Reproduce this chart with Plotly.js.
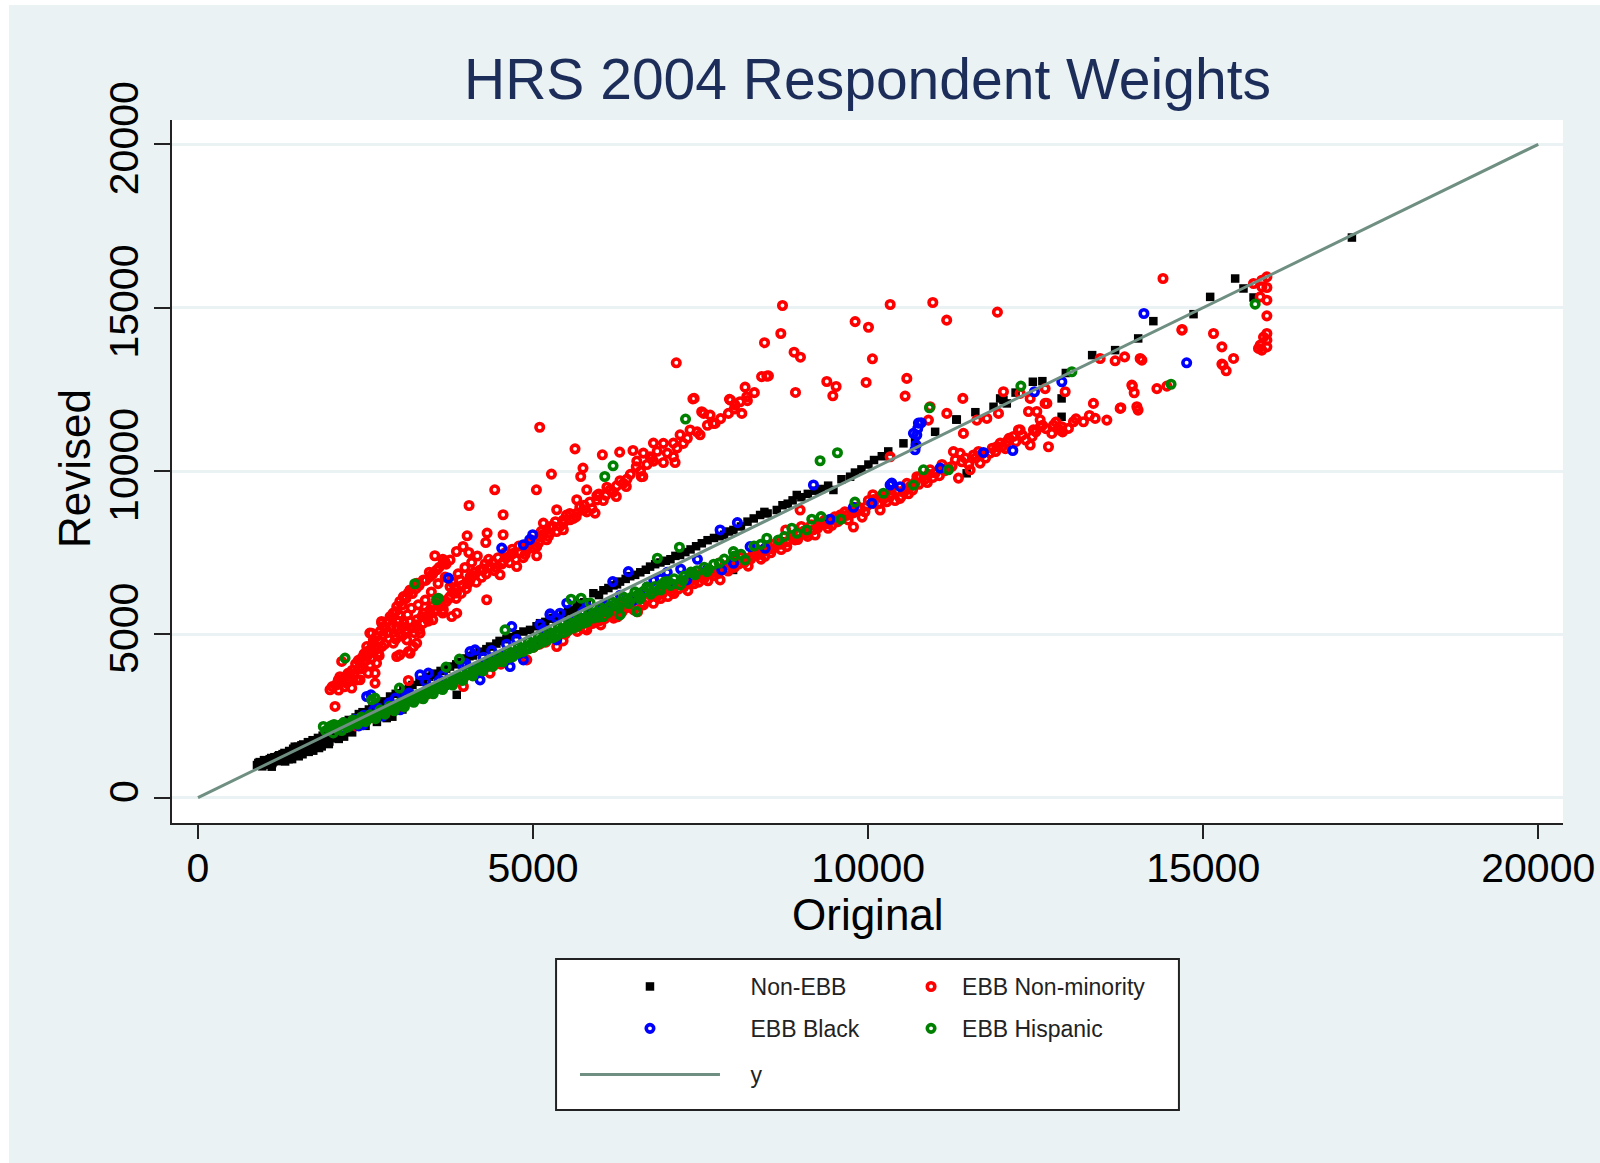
<!DOCTYPE html>
<html>
<head>
<meta charset="utf-8">
<script src="https://cdn.plot.ly/plotly-3.0.1.min.js"></script>
<style>
  html, body { margin: 0; padding: 0; background: #ffffff; }
  #chart { position: absolute; left: 9px; top: 5px; width: 1591px; height: 1158px; }
</style>
</head>
<body>
<div id="chart"></div>
<script>
// ---- Data: [Original, Revised] ----
const nonEbb = [
  [880,1000],[920,1090],[960,960],[1000,1120],[1030,1010],[1070,1180],[1110,1060],[1140,1240],[1180,1120],[1210,1300],
  [1250,1150],[1290,1370],[1320,1220],[1360,1430],[1380,1260],[1420,1500],[1460,1330],[1490,1560],[1530,1380],[1570,1630],
  [1600,1440],[1640,1700],[1680,1500],[1710,1760],[1750,1560],[1790,1830],[1820,1600],[1860,1900],[1880,1660],[1920,1960],
  [1960,1720],[2000,2030],[2040,1830],[2100,1800],[2180,1870],[1846,1570],[1720,1440],[1560,1330],[1300,1110],[1100,950],
  [900,1060],[940,1020],[985,1150],[1012,1065],[1048,1090],[1093,1215],[1124,1108],[1163,1192],[1195,1268],[1232,1207],
  [1262,1333],[1283,1238],[1334,1296],[1352,1178],[1404,1398],[1433,1302],[1444,1561],[1472,1418],[1512,1482],[1543,1604],
  [1583,1497],[1622,1562],[1653,1621],[1694,1664],[1733,1618],[1762,1703],[1804,1757],[1833,1702],[1872,1803],[1903,1758],
  [1942,1884],[1983,1852],[2022,1943],[2064,2004],[1404,1182],[1503,1268],[1652,1403],[1806,1521],[1952,1642],
  [2100,2200],[2150,2250],[2205,2322],[2250,2380],[2352,2455],[2400,2560],[2455,2618],[2550,2700],[2604,2752],[2700,2900],
  [2752,2948],[2805,2903],[2866,3098],[2950,3180],[3004,3198],[3065,3303],[3152,3352],[3200,3450],[3305,3548],[3363,3608],
  [3452,3702],[3500,3760],[3553,3798],[3620,3880],[3704,3952],[3761,4015],[3853,4082],[3900,4160],[4004,4262],[4050,4330],
  [4104,4352],[4200,4470],[4303,4548],[4358,4627],[4452,4718],[4500,4800],[4603,4852],[4650,4920],[4752,5003],[4856,5086],
  [4955,5137],[5052,5248],[5104,5342],[5183,5382],[5250,5480],[5303,5502],[5353,5443],[5450,5640],[5522,5703],[5602,5749],
  [5652,5853],[5700,5950],[5764,5982],[5801,5902],[5900,6259],[5984,6203],[6050,6350],[6124,6418],[6200,6500],[6253,6532],
  [6298,6615],[6382,6698],[6450,6780],[6523,6822],[6600,6900],[6683,6978],[6746,7074],[6822,7148],[6900,7200],[6982,7252],
  [7050,7300],[7124,7402],[7194,7431],[7272,7518],[7350,7600],[7433,7698],[7518,7788],[7604,7882],[7700,7950],[7783,8003],
  [7850,8050],[7924,8148],[7990,8196],[8102,8302],[8200,8450],[8293,8548],[8388,8654],[8452,8748],[8500,8700],[8637,8807],
  [8722,8953],[8800,9000],[8873,9102],[8935,9266],[9004,9198],[9100,9300],[9204,9398],[9300,9450],[9403,9552],[9482,9419],
  [9602,9748],[9731,9826],[9803,9952],[9900,10050],[10004,10198],[10088,10336],[10204,10452],[10300,10600],[10527,10847],[10700,10900],
  [11000,11200],[11315,11575],[11600,11800],[11871,11966],[11970,12222],[12019,12171],[12069,12069],[12200,12400],[12458,12732],[12600,12750],
  [12887,12222],[12887,11660],[12950,13000],[13343,13547],[13686,13700],[14030,14058],[14256,14587],[14856,14801],[15104,15330],[15477,15892],
  [15601,15587],[15751,15312],[17219,17146],
  [2045,1826],[2300,2000],[2500,2200],[2670,2320],[2816,2437],[2900,2480],[3050,2700],[3861,3150],[4500,4300],
  [5000,4750],[7985,6972],[8388,7483],[8700,7850],[11470,9930],[11323,11575]
];
const ebbNonMinority = [
  // upper branch
  [1970,3305],[2045,2794],[2079,3508],[2094,3608],[2144,4171],[2219,3507],[2269,3813],[2294,3356],[2368,3608],[2418,3611],
  [2418,4015],[2443,4272],[2467,4324],[2518,4627],[2540,3815],[2564,5040],[2567,4067],[2593,5036],[2617,4832],[2642,3508],
  [2642,3813],[2664,4120],[2664,4630],[2667,4933],[2691,4425],[2739,5395],[2742,4627],[2742,5342],[2763,4988],[2766,5240],
  [2866,5545],[2912,5652],[2915,4730],[2963,5242],[2966,4321],[2966,5850],[3011,4376],[3012,6007],[3015,5036],[3040,5240],
  [3065,6156],[3115,4832],[3115,5141],[3136,6264],[3139,4474],[3164,4422],[3164,5391],[3164,6360],[3214,4627],[3263,4733],
  [3264,5443],[3264,6564],[3313,5036],[3363,5342],[3363,5651],[3363,6666],[3463,5749],[3463,6768],[3488,5851],[3534,7405],
  [3562,6972],[3612,6055],[3661,5753],[3661,7177],[3683,7231],[3761,6156],[3761,6462],[3761,7278],[3786,5545],[3857,6264],
  [3857,7537],[3861,5648],[3910,6666],[3956,7690],[4016,8017],[4041,7506],[4045,8945],[4060,6671],[4060,6768],[4209,6972],
  [4258,6977],[4294,7812],[4308,6059],[4314,8100],[4358,7074],[4428,9425],[4507,6824],[4553,8048],[4553,8660],[4557,7227],
  [4656,7405],[4706,7483],[4756,7078],[4905,7690],[4906,7584],[5050,9425],[5054,7405],[5055,7686],[5099,11340],[5104,7992],
  [5154,8405],[5254,8100],[5254,8297],[5274,9905],[5353,8813],[5452,8201],[5452,8501],[5552,8507],[5626,10679],[5652,8705],
  [5652,9119],[5711,9832],[5745,10089],[5751,8807],[5801,9425],[5925,8711],[5950,9113],[6034,10496],[6149,9419],[6242,9220],
  [6292,10578],[6348,9622],[6391,9526],[6491,10628],[6540,10131],[6615,9826],[6637,9832],[6646,10548],[6746,10437],[6771,10396],
  [6796,10854],[6945,10261],[6945,10846],[7094,10437],[7094,10854],[7119,10261],[7137,13312],[7194,11108],[7243,10846],[7343,11254],
  [7385,12209],[7403,12222],[7492,11108],[7516,11814],[7546,11763],[7642,11712],[7688,11458],[7716,11458],[7915,11763],[7930,12193],
  [7947,12171],[8015,12018],[8089,12121],[8115,11763],[8164,12567],[8189,12273],[8410,12890],[8454,13928],[8488,12905],[8512,12913],
  [8697,14210],[8722,15065],[8895,13637],[8916,12405],[8990,13484],[9383,12741],[9473,12302],[9522,12588],[9806,14574],[9970,12711],
  [10005,14401],[10064,13434],[10329,15096],[10552,12293],[10577,12834],[10965,15157],[11172,14617],[11929,14862],
  [2952,4852],[3048,4954],[3103,5046],[3198,5203],[3252,5296],[3304,5148],[3402,5503],[3447,5602],[3503,5447],[3552,5748],
  [3598,5903],[3652,5652],[3703,6004],[3802,6297],[3853,6102],[3948,6503],[4003,6398],[4098,6802],[4152,6597],[4248,7003],
  [4302,6852],[4398,7198],[4452,7046],[4603,7352],[4648,7197],[4802,7503],[4853,7348],[4948,7802],[5003,7647],[5148,8052],
  [5203,7897],[5298,8303],[5352,8148],[5452,8398],[5498,8652],[5603,8548],[5698,8902],[5802,8747],[5848,9053],[5952,9248],
  [6048,9097],[6102,9503],[6198,9352],[6298,9703],[6452,9898],[6548,10302],[6698,10197],[6852,10603],[7003,10548],[7148,10702],
  [7302,11003],[7448,11198],[7602,11402],[7798,11603],[8003,11897],[8198,12153],[8302,12398],
  [2003,3402],[2098,3298],[2152,3548],[2203,3702],[2248,3598],[2302,3903],[2352,4098],[2398,3952],[2478,4402],[2503,4198],
  [2548,4503],[2603,4698],[2648,4552],[2702,4803],[2722,5098],[2798,5203],[2832,5398],[2898,5503],[2952,5702],[3003,5598],
  [3048,5903],[3102,6098],[3198,6252],[3252,6398],[3302,6502],[3398,6652],[3452,6903],[3502,6848],[3598,7052],[3652,7298],[3702,7148],
  [2061,3447],[2118,3702],[2183,3396],[2238,3806],[2327,3748],[2392,4203],[2457,3952],[2531,4348],[2584,4246],[2622,4454],
  [2703,4347],[2786,4702],[2821,5053],[2883,5248],[2937,4954],[2992,5397],[3071,5352],[3128,5604],[3183,5797],[3229,5052],
  [3287,5903],[3342,5548],[3391,6048],[3437,5403],[3482,6297],[3528,5702],[3583,6553],[3627,5948],[3688,6752],[3742,6097],
  [3787,6603],[3833,6398],[3882,6852],[3927,6253],[3983,7047],[4028,6553],[4083,7203],[4122,6897],[4168,7398],[4232,6748],
  [4283,7153],[4337,7297],[4422,6952],[4478,7347],[4532,7153],[4583,7497],[4688,7603],[4742,7297],[4787,7703],[4882,7448],
  [4968,7897],[5083,7803],[5122,8153],[5228,7997],[5333,8447],[5402,8303],[5548,8697],[5643,8603],[5762,8953],[5878,8847],
  [5982,9297],[6083,9253],[6247,9547],[6402,9753],[6603,9997],[6797,10303],
  // main band (below line)
  [2350,2200],[2502,2348],[2600,2450],[2798,2603],[3003,2798],[3139,3587],[3164,2997],[3302,3052],[3420,3170],[3598,3352],
  [3690,3440],[3802,3548],[3960,3404],[4003,3748],[4110,3760],[4198,3902],[4358,3813],[4402,4098],[4520,4090],[4598,4252],
  [4710,4360],[4802,4448],[4906,4220],[5010,4610],[5098,4702],[5190,4760],[5302,4898],[5353,4627],[5448,4802],[5480,5010],
  // lower red branch
  [5598,5248],[5660,5090],[5702,5352],[5801,5137],[5860,5460],[5898,5402],[5952,5598],[6010,5290],[6090,5610],[6148,5752],
  [6202,5498],[6260,5540],[6302,5898],[6390,5810],[6448,6002],[6502,5748],[6560,5690],[6602,6098],[6648,5902],[6690,6060],
  [6748,6202],[6796,5953],[6860,6290],[6902,6098],[6952,6352],[7010,6160],[7048,6398],[7102,6252],[7140,6510],[7198,6602],
  [7248,6448],[7310,6340],[7352,6702],[7402,6548],[7440,6760],[7502,6852],[7548,6698],[7610,6640],[7648,6952],[7702,6798],
  [7780,7186],[7791,6666],[7852,7098],[7910,6940],[7948,7202],[8003,7048],[8040,7260],[8098,7352],[8152,7198],[8210,7090],
  [8248,7302],[8290,7510],[8348,7598],[8402,7302],[8460,7390],[8502,7702],[8548,7498],[8590,7760],[8652,7852],[8702,7598],
  [8770,8196],[8786,7686],[8852,7998],[8910,7890],[8948,7902],[9003,8302],[9040,8160],[9098,7998],[9152,8352],[9210,8040],
  [9248,8252],[9290,8410],[9352,8502],[9402,8248],[9460,8340],[9502,8598],[9548,8452],[9590,8660],[9652,8748],[9702,8502],
  [9760,8807],[9781,8287],[9852,8898],[9910,8590],[9952,8752],[10003,9098],[10070,9272],[10079,9010],[10152,8998],[10179,8807],
  [10202,9248],[10278,9060],[10352,9302],[10402,9098],[10477,9163],[10490,9220],[10552,9448],[10578,9622],[10602,9302],[10627,9526],
  [10702,9648],[10727,9825],[10776,9832],[10852,9752],[10902,9898],[10925,10037],[11003,9948],[11102,10198],[11198,10098],[11273,10592],
  [11302,10348],[11348,9783],[11373,10541],[11448,10398],[11502,10198],[11522,10037],[11572,10490],[11648,10598],[11671,10242],[11752,10398],
  [11820,10548],[11852,10698],[11920,10742],[11970,10854],[12003,10752],[12069,10896],[12102,10998],[12168,11058],[12243,11254],[12268,11261],
  [12302,11098],[12352,10948],[12393,11821],[12418,10796],[12467,11261],[12502,11198],[12517,11821],[12567,11567],[12571,11355],[12602,11398],
  [12641,12069],[12691,10742],[12741,11151],[12766,11406],[12802,11498],[12866,11254],[12890,11355],[12902,11198],[12989,11304],[13064,11508],
  [13102,11598],[13213,11508],[13302,11698],[13362,12069],[13388,11610],[13562,11559],[13761,11916],[13935,12630],[13970,12395],[14010,11967],
  [14028,11865],[14309,12523],[14458,12598],[13943,12599],[13771,11936],
  [5522,5118],[5638,5213],[5764,5177],[5883,5332],[5987,5418],[6072,5483],[6183,5607],[6327,5684],[6418,5878],[6533,5853],
  [6622,5957],[6718,6093],[6843,6148],[6927,6232],[7063,6307],[7168,6383],[7283,6557],[7388,6652],[7473,6598],[7578,6812],
  [7683,6897],[7762,6863],[7878,7003],[7973,7118],[8068,7153],[8183,7318],[8268,7403],[8373,7447],[8478,7563],[8573,7618],
  [8683,7757],[8788,7833],[8883,7957],[8978,8083],[9073,8088],[9183,8203],[9268,8333],[9383,8387],[9478,8503],[9573,8557],
  [9683,8643],[9778,8718],[9883,8823],[9978,8927],[10083,9127],[10228,9143],[10323,9207],[10428,9383],[10533,9347],[10663,9418],
  [10758,9593],[10883,9647],[10968,9803],[11063,9857],[11148,10013],[11253,10147],[11398,10283],[11603,10397],[11697,10523],[11903,10597],
  [12048,10683],[12203,10897],[12447,11053],[12653,11297],
  // on the line
  [8985,8807],[10328,10437],[10900,11559],[10925,11967],[11174,11763],[11413,12222],[11422,11151],[11622,11559],[11771,11610],[11945,11763],
  [12019,12425],[12268,12375],[12418,12222],[12641,12523],[12667,12069],[12940,12425],[13462,13444],[13686,13373],[13828,13495],[14059,13444],
  [14085,13394],[14685,14333],[14400,15892],
  // top right
  [15154,14210],[15279,13801],[15453,13446],[15279,13272],[15343,13067],[15296,13241],[15751,15740],[15875,15840],[15950,15942],[15875,15636],
  [15950,15617],[15850,15330],[15950,15229],[15950,14749],[15950,14210],[15950,14006],[15850,13853],[15825,13752],[15875,13700],[15950,13801],
  [15900,14100],[14682,14311]
];
const ebbBlack = [
  [2270,2300],[2400,2200],[2464,2238],[2517,3098],[2580,3150],[2700,2600],[2900,2750],[3015,2691],[3200,3000],[3313,3761],
  [3437,3813],[3500,3350],[3736,6722],[3900,3700],[4060,4474],[4134,4526],[4209,3608],[4300,4150],[4450,4250],[4532,7640],
  [4657,4015],[4682,5239],[4855,7742],[4856,4220],[4950,7900],[4995,8048],[5000,4700],[5254,5596],[5254,5627],[5353,4832],
  [5403,5648],[5503,5954],[5700,5500],[6000,5750],[6189,6615],[6422,6920],[6600,6250],[7045,6564],[7294,6666],[7816,6972],
  [7990,7177],[7791,8196],[8049,8419],[8239,7686],[8463,7636],[9184,9572],[9433,8523],[9781,8890],[10055,9012],[10328,9572],
  [10353,9628],[10477,9520],[10676,11152],[10700,10650],[10716,10796],[10726,11100],[10740,11300],[10750,11467],[10791,11477],[11074,10089],
  [11721,10567],[12159,10628],[12482,12425],[12890,12732],[14115,14822],[14753,13312],
  [2152,2098],[2352,2402],[2622,2698],[2752,2502],[2852,2902],[3102,3148],[3352,3198],[3602,3598],[3702,3452],[3952,4048],
  [4152,3948],[4382,4502],[4552,4348],[4752,4848],[4902,4598],[5102,5302],[5202,4948],[5452,5352],[5602,5448],[5802,5848],
  [5902,5598],[6302,6198],[6502,6048],[6802,6648],[7002,6898],[7452,7298],[7602,6998],
  [2233,2178],[2478,2523],[2683,2747],[2947,3053],[3148,3203],[3397,3548],[3653,3747],[3848,3652],[3997,4103],[4253,4297],
  [4603,4698],[4797,4503],[5148,5153],[5347,5497],[5553,5297],[5748,5703],[6097,5903],[6703,6447],[6897,6703],[7203,6997]
];
const ebbHispanic = [
  [1870,2180],[1950,2120],[2030,2240],[2080,2090],[2170,2300],[2230,2160],[2310,2380],[2380,2250],[2440,2470],[2500,2330],
  [2592,2997],[2642,3049],[2570,2540],[2650,2420],[2720,2680],[2790,2560],[2860,2800],[2930,2660],[3005,3354],[3010,2900],
  [3080,2780],[3150,3010],[3220,2920],[3290,3160],[3360,3030],[3430,3300],[3510,3180],[3580,3440],[3650,3310],[3701,3997],
  [3730,3590],[3800,3450],[3880,3730],[3900,4241],[3950,3590],[4030,3880],[4100,3730],[4180,4030],[4250,3880],[4330,4190],
  [4400,4020],[4480,4340],[4550,4160],[4582,5137],[4630,4480],[4700,4320],[4780,4640],[4850,4470],[4930,4790],[5000,4600],
  [5080,4940],[5150,4760],[5230,5080],[5300,4900],[5380,5230],[5450,5050],[5530,5390],[5567,6076],[5600,5190],[5680,5530],
  [5716,6107],[5750,5340],[5851,5960],[5830,5680],[5900,5500],[6049,5544],[6000,5830],[6100,5700],[6180,5990],[6298,5596],
  [6260,5860],[6350,6140],[6440,6000],[6547,5697],[6520,6300],[6600,6150],[6700,6450],[6780,6280],[6855,7330],[6896,6412],
  [6960,6600],[7050,6500],[7184,7666],[7194,6513],[7393,6870],[7592,6920],
  [1903,2048],[1987,2203],[2054,2147],[2118,2212],[2196,2243],[2272,2238],[2347,2326],[2423,2344],[2482,2427],[2538,2452],
  [2613,2497],[2684,2566],[2747,2618],[2823,2703],[2887,2716],[2964,2808],[3042,2817],[3107,2925],[3184,2958],[3253,3054],
  [3318,3086],[3393,3157],[3462,3226],[3537,3304],[3614,3347],[3683,3428],[3757,3496],[3843,3607],[3917,3644],[3998,3752],
  [4072,3795],[4143,3886],[4218,3947],[4304,4043],[4368,4097],[4443,4186],[4517,4244],[4602,4336],[4668,4398],[4743,4474],
  [4823,4556],[4897,4618],[4973,4706],[5047,4776],[5124,4853],[5198,4916],[5273,5004],[5347,5076],[5424,5153],[5497,5216],
  [5573,5304],[5647,5366],[5724,5456],[5798,5517],[5884,5604],[5947,5676],[6053,5754],[6127,5826],[6224,5924],[6307,5996],
  [6404,6084],[6478,6146],[6573,6234],[6647,6316],[6744,6384],[6818,6466],[6924,6534],[7003,6617],[7104,6704],[7247,6776],
  [7354,6904],[7446,6946],[7553,7054],[7697,7146],[7853,7304],[8004,7396],[8297,7704],
  [2018,1983],[2143,2057],[2262,2194],[2388,2286],[2523,2377],[2658,2504],[2782,2617],[2907,2743],[3063,2858],[3198,2994],
  [3343,3107],[3478,3253],[3632,3366],[3788,3524],[3927,3657],[4064,3768],[4197,3913],[4353,4027],[4488,4173],[4643,4287],
  [4777,4424],[4934,4557],[5068,4693],[5213,4827],[5357,4964],[5512,5108],[5663,5247],[5808,5384],[5973,5527],[6118,5663],
  [6283,5807],[6427,5943],[6594,6077],[6757,6233],[6903,6357],[7078,6543],[7233,6647],[7418,6823],[7623,6997],[7777,7183],
  [8103,7447],[8397,7753],[8752,7997],[9297,8603],[9803,9047],
  [7990,7532],[8164,7278],[8488,7941],[8661,7890],[8861,8247],[8935,8094],[9085,8196],[9159,8523],[9592,8523],[10228,9318],
  [10676,9572],[10826,10037],[11198,10037],[9283,10315],[9542,10560],[10915,11936],[12279,12599],[13040,13039],[14520,12655],[15775,15107],
  [2194,4272],[3235,6548],[3559,6059],[3587,6107],[6070,9832],[6194,10159],[7275,11590]
];
const lineX = [0, 20000];
const lineY = [0, 20000];
const tickVals = [0, 5000, 10000, 15000, 20000];
const tickText = ['0', '5000', '10000', '15000', '20000'];

const FONT = '"Liberation Sans", Arial, Helvetica, sans-serif';
const xs = a => a.map(p => p[0]);
const ys = a => a.map(p => p[1]);
const circ = (c) => ({ symbol: 'circle-open', size: 7.5, color: c, line: { width: 3.6, color: c } });
const PAD = '\u00a0\u00a0\u00a0\u00a0';

const traces = [
  { type: 'scatter', mode: 'markers', name: PAD + 'Non-EBB', x: xs(nonEbb), y: ys(nonEbb),
    marker: { symbol: 'square', size: 8.5, color: '#000000', line: { width: 0 } },
    legend: 'legend', legendgroup: 'g1' },
  { type: 'scatter', mode: 'markers', name: 'EBB Non-minority', x: xs(ebbNonMinority), y: ys(ebbNonMinority),
    marker: circ('#ff0000'), legend: 'legend2', legendgroup: 'g2' },
  { type: 'scatter', mode: 'markers', name: PAD + 'EBB Black', x: xs(ebbBlack), y: ys(ebbBlack),
    marker: circ('#0000ff'), legend: 'legend', legendgroup: 'g3' },
  { type: 'scatter', mode: 'markers', name: 'EBB Hispanic', x: xs(ebbHispanic), y: ys(ebbHispanic),
    marker: circ('#008000'), legend: 'legend2', legendgroup: 'g4' },
  { type: 'scatter', mode: 'lines', name: PAD + 'y', x: lineX, y: lineY,
    line: { color: '#6f8f82', width: 3 }, legend: 'legend3', legendgroup: 'g5' }
];

const legendCommon = {
  orientation: 'v', xanchor: 'left', yanchor: 'top', bgcolor: 'rgba(0,0,0,0)', borderwidth: 0,
  font: { family: FONT, size: 23, color: '#222222' }, tracegroupgap: 9, traceorder: 'grouped'
};

const layout = {
  width: 1591, height: 1158,
  paper_bgcolor: '#eaf2f3', plot_bgcolor: '#ffffff',
  margin: { l: 163, r: 37, t: 115, b: 340, pad: 0 },
  font: { family: FONT, color: '#000000' },
  title: { text: 'HRS 2004 Respondent Weights', font: { family: FONT, size: 57, color: '#1c2d5a' },
           x: 0.5, xref: 'paper', xanchor: 'center', y: 0.936, yref: 'container', yanchor: 'middle' },
  xaxis: {
    range: [-388, 20369], tickvals: tickVals, ticktext: tickText, showgrid: false, zeroline: false,
    showline: true, linecolor: '#222222', linewidth: 2, ticks: 'outside', ticklen: 14, tickwidth: 2, tickcolor: '#222222',
    ticklabelstandoff: -6,
    tickfont: { family: FONT, size: 41, color: '#000000' }
  },
  yaxis: {
    range: [-774, 20744], tickvals: tickVals, ticktext: tickText, showgrid: true, gridcolor: '#eaf2f3', gridwidth: 3,
    zeroline: false, showline: true, linecolor: '#222222', linewidth: 2, ticks: 'outside', ticklen: 16, tickwidth: 2,
    tickcolor: '#222222', tickangle: -90,
    tickfont: { family: FONT, size: 41, color: '#000000' }
  },
  annotations: [
    { text: 'Original', xref: 'paper', yref: 'paper', x: 0.5, y: -0.1300, xanchor: 'center', yanchor: 'middle',
      showarrow: false, font: { family: FONT, size: 44, color: '#000000' } },
    { text: 'Revised', xref: 'paper', yref: 'paper', x: -0.0697, y: 0.5036, xanchor: 'center', yanchor: 'middle',
      textangle: -90, showarrow: false, font: { family: FONT, size: 44, color: '#000000' } }
  ],
  legend: Object.assign({}, legendCommon, { x: 0.2897, y: -0.2020, itemwidth: 140 }),
  legend2: Object.assign({}, legendCommon, { x: 0.5234, y: -0.2020, itemwidth: 52 }),
  legend3: Object.assign({}, legendCommon, { x: 0.2897, y: -0.3272, itemwidth: 140 }),
  shapes: [{
    type: 'rect', xref: 'paper', yref: 'paper', x0: 0.2761, x1: 0.7239, y0: -0.4083, y1: -0.1935,
    line: { color: '#222222', width: 2 }, fillcolor: '#ffffff', layer: 'below'
  }],
  showlegend: true
};

Plotly.newPlot('chart', traces, layout, { displayModeBar: false, staticPlot: true });
</script>
</body>
</html>
